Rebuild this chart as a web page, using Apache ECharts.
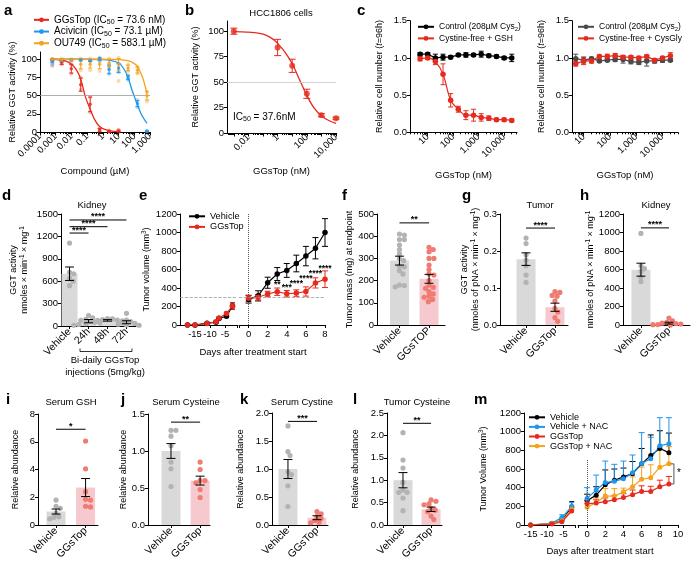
<!DOCTYPE html>
<html>
<head>
<meta charset="utf-8">
<title>GGsTop figure</title>
<script src="https://cdn.jsdelivr.net/npm/echarts@6/dist/echarts.min.js"></script>
<style>
  html, body { margin: 0; padding: 0; background: #fff; }
  #chart { width: 700px; height: 564px; }
</style>
</head>
<body>
<div id="chart"></div>
<script>
// ---------- values ----------
// a  (compound in µM, activity in %)
const aDose = [0.00061, 0.0024, 0.0098, 0.039, 0.156, 0.625, 2.5, 10, 40, 160, 640];
const aGgMean = [99, 96, 87, 65, 38, 3, 1, 1.5];
const aGgErr = [1, 3, 6, 9, 10, 2, 1, 1];
const aGgRep1 = [100, 99, 93, 75, 48, 5, 2, 3];
const aGgRep2 = [91, 93, 80, 58, 27, 0, 0, 0];
const aAcMean = [97, 98, 99, 99, 98, 100, 86, 88, 75, 39, 1];
const aAcErr = [2, 1, 1, 1, 1, 2, 6, 6, 3, 4, 0.5];
const aAcRep1 = [93, 98, 99, 99, 98, 102, 92, 94, 78, 44, 1];
const aAcRep2 = [100, 98, 99, 99, 98, 97, 80, 82, 72, 34, 1];
const aOuMean = [100, 99, 99, 93, 93, 93, 95, 93, 88, 85, 50];
const aOuErr = [1, 2, 1, 6, 5, 6, 5, 8, 4, 4, 6];
const aOuRep1 = [100, 101, 100, 101, 101, 101, 101, 102, 93, 90, 55];
const aOuRep2 = [99, 97, 98, 85, 85, 84, 88, 70, 84, 80, 42];
const aGgFitX = [0.0006, 0.002, 0.005, 0.01, 0.02, 0.04, 0.0736, 0.15, 0.3, 0.6, 1.2, 3, 10];
const aGgFitY = [100, 99, 97, 93, 86, 72, 50, 32, 17, 8, 4, 1.5, 0.5];
const aAcFitX = [0.0006, 0.1, 1, 3, 10, 20, 40, 73, 100, 160, 300, 640];
const aAcFitY = [100, 100, 99.5, 98.5, 95, 88, 75, 57, 49, 37, 23, 12];
const aOuFitX = [0.0006, 1, 10, 40, 100, 160, 300, 450, 640];
const aOuFitY = [100, 100, 99.5, 98, 94, 90, 78, 66, 53];
const aTickVals = [0.0001, 0.001, 0.01, 0.1, 1, 10, 100, 1000];
const aTickLbls = ['0.0001', '0.001', '0.01', '0.1', '1', '10', '100', '1,000'];

// b  (GGsTop in nM)
const bDose = [0.001, 1, 10, 100, 1000, 10000];
const bMean = [100, 84, 66, 38.5, 17.5, 14.5];
const bErr = [3, 8, 6.5, 4.5, 1.5, 1];
const bFitX = [0.001, 0.01, 0.1, 0.5, 1, 3, 10, 37.6, 100, 300, 1000, 3000, 10000];
const bFitY = [99.6, 99, 97, 92, 88, 80, 68, 50, 37, 25, 17, 12.5, 9.5];
const bTickVals = [0.001, 0.01, 0.1, 1, 10, 100, 1000, 10000];
const bLblVals = [0.01, 1, 100, 10000];
const bLbls = ['0.01', '1', '100', '10,000'];

// c  (relative cell number)
const cDose = [5, 10, 20, 40, 80, 160, 320, 640, 1280, 2560, 5120, 10240, 20480];
const cCtrl = [1.05, 1.05, 1.0, 1.01, 1.01, 1.04, 1.04, 1.04, 1.05, 1.03, 1.02, 1.0, 1.0];
const cCtrlErr = [0.02, 0.02, 0.05, 0.04, 0.02, 0.02, 0.03, 0.02, 0.04, 0.02, 0.02, 0.02, 0.05];
const cGsh = [0.99, 1.0, 0.95, 0.78, 0.43, 0.31, 0.23, 0.23, 0.2, 0.19, 0.17, 0.17, 0.16];
const cGshErr = [0.03, 0.02, 0.04, 0.14, 0.09, 0.04, 0.06, 0.08, 0.05, 0.03, 0.02, 0.02, 0.02];
const cCtrl2 = [0.99, 0.97, 0.99, 0.96, 0.97, 0.98, 0.98, 0.95, 0.94, 0.96, 0.96, 0.97, 0.97];
const cCtrl2Err = [0.06, 0.04, 0.02, 0.02, 0.02, 0.03, 0.05, 0.03, 0.03, 0.07, 0.03, 0.03, 0.02];
const cCysGly = [0.92, 0.96, 0.96, 1.02, 1.02, 1.03, 1.01, 1.01, 1.0, 1.02, 0.97, 1.0, 1.03];
const cCysGlyErr = [0.03, 0.05, 0.03, 0.02, 0.03, 0.03, 0.02, 0.02, 0.02, 0.02, 0.02, 0.02, 0.04];
const cTickVals = [10, 100, 1000, 10000];
const cLbls = ['10', '100', '1,000', '10,000'];

// d  kidney GGT activity
const dCats = ['Vehicle', '24h', '48h', '72h'];
const dMean = [700, 65, 75, 50];
const dErr = [90, 22, 10, 20];
const dDots = [
  [1110, 720, 700, 640, 600, 540],
  [140, 110, 90, 75, 60, 50, 40, 30, 20, 10],
  [100, 95, 85, 80, 75, 70, 65, 60],
  [170, 80, 60, 45, 35, 25, 15, 10]
];
const dSig = [[0, 1, 1245], [0, 2, 1330], [0, 3, 1420]];
const dSigLbl = ['****', '****', '****'];

// e  tumor volume
const eDaysL = [-17.5, -15, -11, -8, -7, -4.5, -2.5];
const eVehL = [0, 0, 20, 30, 70, 95, 205];
const eGgL = [0, 0, 15, 35, 75, 125, 205];
const eErrL = [0, 0, 5, 8, 10, 15, 35];
const eDaysR = [0, 1, 2, 3, 4, 5, 6, 7, 8];
const eVehR = [277, 315, 457, 551, 590, 665, 745, 830, 1000];
const eVehErr = [40, 55, 60, 70, 75, 90, 105, 115, 150];
const eGgR = [288, 300, 335, 360, 338, 345, 362, 455, 495];
const eGgErr = [35, 30, 30, 40, 35, 35, 50, 55, 90];
const eStarDays = [3, 4, 5, 6, 7, 8];
const eStarY = [440, 405, 450, 505, 560, 610];
const eStarLbl = ['**', '***', '****', '****', '****', '****'];

// f - l  bar + dot panels
const fCats = ['Vehicle', 'GGsTOP'];
const fMean = [290, 208];
const fErr = [20, 20];
const fDots = [
  [410, 405, 385, 385, 360, 340, 320, 300, 290, 265, 262, 245, 230, 180, 178, 172],
  [350, 340, 330, 300, 300, 270, 250, 230, 225, 200, 180, 170, 165, 150, 140, 130, 125, 115, 105]
];
const fSig = [[0, 1, 460]];

const gCats = ['Vehicle', 'GGsTop'];
const gMean = [0.178, 0.048];
const gErr = [0.017, 0.011];
const gDots = [
  [0.235, 0.22, 0.19, 0.175, 0.16, 0.135, 0.115],
  [0.09, 0.088, 0.08, 0.078, 0.065, 0.045, 0.035, 0.02, 0.01]
];
const gSig = [[0, 1, 0.262]];

const hMean = [598, 20];
const hErr = [70, 10];
const hDots = [
  [990, 640, 610, 580, 520, 470],
  [75, 45, 30, 20, 15, 10, 5, 3, 0]
];
const hSig = [[0, 1, 1050]];

const iMean = [0.97, 2.7];
const iErr = [0.18, 0.65];
const iDots = [[1.8, 1.35, 1.2, 0.85, 0.6, 0.55, 0.45], [6.05, 4.05, 2.4, 1.85, 1.8, 1.35, 1.3]];
const iSig = [[0, 1, 6.9]];

const jMean = [1.0, 0.6];
const jErr = [0.1, 0.06];
const jDots = [[1.28, 1.28, 1.2, 1.07, 0.85, 0.76, 0.52], [0.85, 0.75, 0.6, 0.6, 0.57, 0.48, 0.37]];
const jSig = [[0, 1, 1.39]];

const kMean = [1.0, 0.13];
const kErr = [0.17, 0.035];
const kDots = [[1.77, 1.31, 1.24, 0.95, 0.9, 0.7, 0.33], [0.24, 0.2, 0.15, 0.12, 0.08, 0.05, 0.04]];
const kSig = [[0, 1, 1.85]];

const lMean = [1.0, 0.35];
const lErr = [0.17, 0.05];
const lDots = [[2.06, 1.45, 1.27, 0.95, 0.78, 0.73, 0.73, 0.6, 0.32], [0.56, 0.53, 0.47, 0.45, 0.37, 0.33, 0.3, 0.2, 0.12]];
const lSig = [[0, 1, 2.27]];

// m  tumor volume with NAC
const mDaysL = [-15, -8.5, -5.5, -2.5];
const mVehL = [0, 15, 50, 190];
const mVehNL = [0, 20, 80, 200];
const mGgL = [0, 10, 35, 150];
const mGgNL = [0, 15, 45, 170];
const mVehLE = [0, 10, 20, 60];
const mVehNLE = [0, 15, 30, 40];
const mGgLE = [0, 5, 10, 30];
const mGgNLE = [0, 8, 15, 35];
const mDaysR = [0, 1, 2, 3, 4, 5, 6, 7, 8, 9];
const mVehR = [260, 320, 430, 480, 515, 550, 655, 745, 820, 775];
const mVehRE = [70, 90, 160, 120, 95, 130, 165, 220, 190, 210];
const mVehNR = [285, 375, 455, 470, 495, 560, 660, 710, 850, 870];
const mVehNRE = [115, 160, 230, 180, 190, 190, 330, 230, 300, 280];
const mGgR = [230, 235, 250, 270, 295, 325, 360, 360, 410, 440];
const mGgRE = [35, 35, 40, 45, 40, 50, 60, 55, 70, 80];
const mGgNR = [190, 240, 310, 310, 355, 410, 490, 505, 620, 655];
const mGgNRE = [40, 50, 80, 80, 40, 105, 130, 140, 220, 185];

// ---------- style ----------
const FONT = 'Liberation Sans, Arial, Helvetica, sans-serif';
const RED = '#e62a1e', BLUE = '#1f97ee', ORANGE = '#f5a21c', DGRAY = '#4a4a4a';
const RED_L = 'rgba(230,42,30,0.42)', BLUE_L = 'rgba(31,151,238,0.42)', ORANGE_L = 'rgba(245,162,28,0.5)';
const GRAYBAR = '#d9d9d9', PINKBAR = '#f5c9cd', GRAYDOT = '#b3b3b3', REDDOT = '#ef7b71';

function rich(fs, lh) {
  const base = { fontFamily: FONT, color: '#000' };
  return {
    t: Object.assign({ fontSize: fs, lineHeight: lh }, base),
    i: Object.assign({ fontSize: fs, lineHeight: lh, fontStyle: 'italic' }, base),
    s: Object.assign({ fontSize: fs * 0.7, lineHeight: lh, verticalAlign: 'bottom' }, base),
    u: Object.assign({ fontSize: fs * 0.7, lineHeight: lh, verticalAlign: 'top' }, base)
  };
}
const zip = (xs, ys) => xs.map((x, i) => [x, ys[i]]);
function minorTicks(lo, hi) {
  const out = [];
  for (let e = lo; e <= hi; e++) for (let m = 2; m <= 9; m++) out.push(m * Math.pow(10, e));
  return out;
}

const grids = [], xAxes = [], yAxes = [], series = [], legends = [], gfx = [];
function grid(l, t, w, h) { grids.push({ left: l, top: t, width: w, height: h }); return grids.length - 1; }
function addX(a) { xAxes.push(a); return xAxes.length - 1; }
function addY(a) { yAxes.push(a); return yAxes.length - 1; }

const AXL = { show: true, onZero: false, lineStyle: { color: '#000', width: 1 } };
const TKS = { color: '#000', width: 1 };

function yAx(g, max, ticks, name, gap, dec) {
  return {
    type: 'value', gridIndex: g, min: 0, max: max,
    axisLine: AXL,
    axisTick: { show: true, length: 3, customValues: ticks, lineStyle: TKS },
    axisLabel: { customValues: ticks, margin: 3, fontSize: 9.5, fontFamily: FONT, color: '#000',
      formatter: v => dec ? (+v).toFixed(dec) : String(v) },
    splitLine: { show: false },
    name: name, nameLocation: 'middle', nameRotate: 90, nameGap: gap,
    nameTextStyle: { fontSize: 9, fontFamily: FONT, color: '#000', rich: rich(9, 11) }
  };
}
function hiddenY(g, max) { return { type: 'value', gridIndex: g, min: 0, max: max, show: false }; }

function logAx(g, min, max, ticks, lblVals, lbls, name, gap) {
  return {
    type: 'log', logBase: 10, gridIndex: g, min: min, max: max, position: 'bottom',
    axisLine: AXL,
    axisTick: { show: true, length: 3.5, customValues: ticks, lineStyle: TKS },
    axisLabel: { customValues: lblVals, rotate: 45, margin: 3, fontSize: 9.5, fontFamily: FONT, color: '#000',
      formatter: v => {
        const k = lblVals.findIndex(t => Math.abs(Math.log10(t) - Math.log10(v)) < 0.01);
        return k < 0 ? '' : lbls[k];
      } },
    splitLine: { show: false }, minorTick: { show: false },
    name: name, nameLocation: 'middle', nameGap: gap,
    nameTextStyle: { fontSize: 9.5, fontFamily: FONT, color: '#000' }
  };
}
function minorAx(g, min, max, vals) {
  return {
    type: 'log', logBase: 10, gridIndex: g, min: min, max: max, position: 'bottom',
    axisLine: { show: false }, axisLabel: { show: false }, splitLine: { show: false },
    axisTick: { show: true, length: 2, customValues: vals, lineStyle: TKS }
  };
}
function numAx(g, min, max, ticks, lblVals) {
  return {
    type: 'value', gridIndex: g, min: min, max: max,
    axisLine: AXL,
    axisTick: { show: true, length: 3, customValues: ticks, lineStyle: TKS },
    axisLabel: { customValues: lblVals, margin: 4, fontSize: 9.5, fontFamily: FONT, color: '#000',
      formatter: v => String(v) },
    splitLine: { show: false }
  };
}
function catAx(g, min, max, cats) {
  const vals = cats.map((c, i) => i);
  return {
    type: 'value', gridIndex: g, min: min, max: max,
    axisLine: AXL,
    axisTick: { show: true, length: 3, customValues: vals, lineStyle: TKS },
    axisLabel: { customValues: vals, rotate: 45, margin: 4, fontSize: 10.5, fontFamily: FONT, color: '#000',
      formatter: v => cats[Math.round(v)] },
    splitLine: { show: false }
  };
}

// ---------- series helpers ----------
function lineS(name, xi, yi, xs, ys, color, opt) {
  return Object.assign({
    type: 'line', name: name, xAxisIndex: xi, yAxisIndex: yi, data: zip(xs, ys),
    symbol: 'circle', symbolSize: 5, showSymbol: true, silent: true, z: 4,
    lineStyle: { color: color, width: 1.2 }, itemStyle: { color: color }
  }, opt || {});
}
function scatterS(xi, yi, xs, ys, color, size, z) {
  return { type: 'scatter', xAxisIndex: xi, yAxisIndex: yi, data: zip(xs, ys), symbolSize: size,
    itemStyle: { color: color }, silent: true, z: z };
}
function errS(xi, yi, xs, ys, es, color, cap, upOnly, z) {
  return {
    type: 'custom', xAxisIndex: xi, yAxisIndex: yi, z: z || 3, silent: true,
    data: xs.map((x, i) => [x, ys[i], es[i]]), encode: { x: 0, y: 1 },
    renderItem(p, api) {
      const x = api.value(0), y = api.value(1), e = api.value(2);
      if (!e) return { type: 'group', children: [] };
      const t = api.coord([x, y + e]), b = api.coord([x, upOnly ? y : y - e]);
      const st = { stroke: color, lineWidth: 1, fill: null };
      const ch = [
        { type: 'line', shape: { x1: t[0], y1: t[1], x2: b[0], y2: b[1] }, style: st },
        { type: 'line', shape: { x1: t[0] - cap / 2, y1: t[1], x2: t[0] + cap / 2, y2: t[1] }, style: st }
      ];
      if (!upOnly) ch.push({ type: 'line', shape: { x1: b[0] - cap / 2, y1: b[1], x2: b[0] + cap / 2, y2: b[1] }, style: st });
      return { type: 'group', children: ch };
    }
  };
}
function txtStyle(text, o) {
  return Object.assign({ text: text, fontFamily: FONT, fontSize: 9.5, fill: '#000',
    align: 'center', verticalAlign: 'middle', textAlign: 'center', textVerticalAlign: 'middle' }, o || {});
}
function sigS(xi, yi, items, labels) {
  return {
    type: 'custom', xAxisIndex: xi, yAxisIndex: yi, z: 6, silent: true,
    data: items, encode: { x: [0, 1], y: 2 },
    renderItem(p, api) {
      const a = api.coord([api.value(0), api.value(2)]), b = api.coord([api.value(1), api.value(2)]);
      return { type: 'group', children: [
        { type: 'line', shape: { x1: a[0], y1: a[1], x2: b[0], y2: b[1] }, style: { stroke: '#000', lineWidth: 1 } },
        { type: 'text', x: (a[0] + b[0]) / 2, y: a[1] + 1.5,
          style: txtStyle(labels[p.dataIndex], { fontSize: 9, fontWeight: 'bold', verticalAlign: 'bottom', textVerticalAlign: 'bottom' }) }
      ] };
    }
  };
}
// simple beeswarm: keep dots from overlapping by nudging sideways
function swarm(pts, r) {
  const d2 = (2 * r) * (2 * r) * 0.72, placed = [], out = [];
  const order = pts.map((p, i) => i).sort((a, b) => pts[a][1] - pts[b][1]);
  order.forEach(i => {
    const x0 = pts[i][0], y = pts[i][1];
    let dx = 0;
    for (let k = 0; k < 80; k++) {
      const c = (k % 2 ? 1 : -1) * Math.ceil(k / 2) * 0.7;
      if (placed.every(q => (q[0] - x0 - c) * (q[0] - x0 - c) + (q[1] - y) * (q[1] - y) >= d2)) { dx = c; break; }
    }
    out[i] = [x0 + dx, y];
    placed.push(out[i]);
  });
  return out;
}
function dotS(xi, yi, cat, vals, color, r) {
  let pos = null;
  return {
    type: 'custom', xAxisIndex: xi, yAxisIndex: yi, z: 3, silent: true,
    data: vals.map(v => [cat, v]), encode: { x: 0, y: 1 },
    renderItem(p, api) {
      if (p.dataIndex === 0 || !pos) pos = swarm(vals.map(v => api.coord([cat, v])), r);
      const q = pos[p.dataIndex];
      return { type: 'circle', shape: { cx: q[0], cy: q[1], r: r }, style: { fill: color } };
    }
  };
}
function barPanel(xi, yi, means, errs, dots, barCols, dotCols, w, sig, sigLbl) {
  series.push({
    type: 'bar', xAxisIndex: xi, yAxisIndex: yi, barWidth: w, z: 2, silent: true,
    data: means.map((m, i) => ({ value: [i, m], itemStyle: { color: barCols[i] } }))
  });
  dots.forEach((d, i) => series.push(dotS(xi, yi, i, d, dotCols[i], 2.6)));
  series.push(errS(xi, yi, means.map((m, i) => i), means, errs, '#000', 9, false, 5));
  series.push(sigS(xi, yi, sig, sigLbl));
}
function legend(names, left, top, fs, lh, iw) {
  legends.push({
    data: names, left: left, top: top, orient: 'vertical', itemWidth: iw || 16, itemHeight: 6,
    itemGap: 0, padding: 0, selectedMode: false,
    formatter: n => LEG[n],
    textStyle: { fontSize: fs, fontFamily: FONT, color: '#000', lineHeight: lh, rich: rich(fs, lh) }
  });
}
const LEG = {
  aGG: '{t|GGsTop (IC}{s|50}{t| = 73.6 nM)}',
  aAC: '{t|Acivicin (IC}{s|50}{t| = 73.1 µM)}',
  aOU: '{t|OU749 (IC}{s|50}{t| = 583.1 µM)}',
  cCtrl: '{t|Control (208µM Cys}{s|2}{t|)}',
  cGsh: '{t|Cystine-free + GSH}',
  cCtrl2: '{t|Control (208µM Cys}{s|2}{t|)}',
  cCys: '{t|Cystine-free + CysGly}',
  eVeh: '{t|Vehicle}', eGg: '{t|GGsTop}',
  mVeh: '{t|Vehicle}', mVehN: '{t|Vehicle + NAC}', mGg: '{t|GGsTop}', mGgN: '{t|GGsTop + NAC}'
};

// ---------- panel a ----------
let g = grid(40, 52, 110, 80);
let xi = addX(logAx(g, 0.0001, 1000, aTickVals, aTickVals, aTickLbls, 'Compound (µM)', 34));
addX(minorAx(g, 0.0001, 1000, minorTicks(-4, 2)));
let yi = addY(yAx(g, 110, [0, 25, 50, 75, 100], 'Relative GGT activity (%)', 23));
[
  ['aGG', aGgFitX, aGgFitY, aGgMean, aGgErr, aGgRep1, aGgRep2, RED, RED_L],
  ['aAC', aAcFitX, aAcFitY, aAcMean, aAcErr, aAcRep1, aAcRep2, BLUE, BLUE_L],
  ['aOU', aOuFitX, aOuFitY, aOuMean, aOuErr, aOuRep1, aOuRep2, ORANGE, ORANGE_L]
].forEach((c, k) => {
  const dose = aDose.slice(0, c[3].length);
  series.push(lineS(c[0], xi, yi, c[1], c[2], c[7], {
    smooth: 0.35, showSymbol: false, symbolSize: 4, z: 4, lineStyle: { color: c[7], width: 1.3 },
    markLine: k === 0 ? { silent: true, symbol: 'none', label: { show: false },
      lineStyle: { color: '#9a9a9a', type: 'solid', width: 0.8 }, data: [{ yAxis: 50 }] } : undefined
  }));
  series.push(scatterS(xi, yi, dose.concat(dose), c[5].concat(c[6]), c[8], 4, 2));
  series.push(errS(xi, yi, dose, c[3], c[4], c[7], 4, false, 3));
  series.push(scatterS(xi, yi, dose, c[3], c[7], 3.5, 5));
});
legend(['aGG', 'aAC', 'aOU'], 33, 14, 10, 11.7, 15);

// ---------- panel b ----------
g = grid(227, 21, 109, 112);
xi = addX(logAx(g, 0.00034, 10000, bTickVals, bLblVals, bLbls, 'GGsTop (nM)', 33));
addX(minorAx(g, 0.00034, 10000, minorTicks(-4, 3)));
yi = addY(yAx(g, 110, [0, 25, 50, 75, 100], 'Relative GGT activity (%)', 27));
series.push(lineS('bFit', xi, yi, bFitX, bFitY, RED, {
  smooth: 0.35, showSymbol: false, z: 3, lineStyle: { color: RED, width: 1.3 },
  markLine: { silent: true, symbol: 'none', label: { show: false },
    lineStyle: { color: '#c8c8c8', type: 'solid', width: 0.8 }, data: [{ yAxis: 50 }] }
}));
series.push(errS(xi, yi, bDose, bMean, bErr, RED, 7, false, 4));
series.push(scatterS(xi, yi, bDose, bMean, RED, 6, 5));

// ---------- panel c ----------
function cPanel(left, min, max, s1, e1, col1, n1, s2, e2, col2, n2, smooth2, ygap) {
  const gg = grid(left, 20.7, left === 410 ? 107 : 106, 111.6);
  const x = addX(logAx(gg, min, max, cTickVals, cTickVals, cLbls, 'GGsTop (nM)', 38));
  addX(minorAx(gg, min, max, minorTicks(0, 4)));
  const y = addY(yAx(gg, 1.5, [0, 0.5, 1, 1.5], '{t|Relative cell number (}{i|t}{t|=96h)}', ygap, 1));
  series.push(errS(x, y, cDose, s1, e1, col1, 5, false, 3));
  series.push(lineS(n1, x, y, cDose, s1, col1, { symbolSize: 5.5 }));
  series.push(errS(x, y, cDose, s2, e2, col2, 5, false, 3));
  series.push(lineS(n2, x, y, cDose, s2, col2, { symbolSize: 5.5, smooth: smooth2 }));
}
cPanel(410, 2, 33000, cCtrl, cCtrlErr, '#000', 'cCtrl', cGsh, cGshErr, RED, 'cGsh', 0.35, 25);
cPanel(572, 3.6, 40000, cCtrl2, cCtrl2Err, DGRAY, 'cCtrl2', cCysGly, cCysGlyErr, RED, 'cCys', false, 25);
legend(['cCtrl', 'cGsh'], 417, 21, 8.5, 11.6, 16);
legend(['cCtrl2', 'cCys'], 577, 21, 8.5, 11.6, 16);

// ---------- panel d ----------
g = grid(61, 214, 75, 112);
xi = addX(catAx(g, -0.45, 3.5, dCats));
yi = addY(yAx(g, 1500, [0, 300, 600, 900, 1200, 1500],
  '{t|GGT activity}\n{t|nmoles × min}{u|-1}{t| × mg}{u|-1}', 31));
barPanel(xi, yi, dMean, dErr, dDots, [GRAYBAR, GRAYBAR, GRAYBAR, GRAYBAR],
  [GRAYDOT, GRAYDOT, GRAYDOT, GRAYDOT], 16, dSig, dSigLbl);

// ---------- panel e ----------
const eGL = grid(180, 214, 57, 111);
const eXL = addX(numAx(eGL, -20, -1, [-15, -10, -5, -1], [-15, -10, -5]));
const eYL = addY(yAx(eGL, 1200, [0, 200, 400, 600, 800, 1000, 1200], '{t|Tumor volume (mm}{u|3}{t|)}', 28));
const eGR = grid(239, 214, 86, 111);
const eXR = addX(numAx(eGR, -1, 8, [-1, 0, 2, 4, 6, 8], [0, 2, 4, 6, 8]));
const eYR = addY(hiddenY(eGR, 1200));
const dash300 = { silent: true, symbol: 'none', label: { show: false },
  lineStyle: { color: '#9a9a9a', type: 'dashed', width: 0.8 }, data: [{ yAxis: 300 }] };
series.push(errS(eXL, eYL, eDaysL, eVehL, eErrL, '#000', 5, false, 3));
series.push(errS(eXL, eYL, eDaysL, eGgL, eErrL, RED, 5, false, 3));
series.push(lineS('eVehL', eXL, eYL, eDaysL, eVehL, '#000', { symbolSize: 5.5, markLine: dash300 }));
series.push(lineS('eGgL', eXL, eYL, eDaysL, eGgL, RED, { symbolSize: 5.5 }));
series.push(errS(eXR, eYR, eDaysR, eVehR, eVehErr, '#000', 6, false, 3));
series.push(errS(eXR, eYR, eDaysR, eGgR, eGgErr, RED, 6, false, 3));
series.push(lineS('eVeh', eXR, eYR, eDaysR, eVehR, '#000', { symbolSize: 5.5, markLine: {
  silent: true, symbol: 'none', label: { show: false }, data: [
    { yAxis: 300, lineStyle: { color: '#9a9a9a', type: 'dashed', width: 0.8 } },
    { xAxis: 0, lineStyle: { color: '#555', type: 'dotted', width: 1 } }
  ] } }));
series.push(lineS('eGg', eXR, eYR, eDaysR, eGgR, RED, { symbolSize: 5.5 }));
series.push({
  type: 'custom', xAxisIndex: eXR, yAxisIndex: eYR, z: 6, silent: true,
  data: zip(eStarDays, eStarY), encode: { x: 0, y: 1 },
  renderItem(p, api) {
    const c = api.coord([api.value(0), api.value(1)]);
    return { type: 'text', x: c[0], y: c[1], style: txtStyle(eStarLbl[p.dataIndex], { fontSize: 8.5, fontWeight: 'bold' }) };
  }
});
legend(['eVeh', 'eGg'], 188, 211, 9.2, 10.6, 16);

// ---------- panels f - l ----------
const GR2 = [GRAYBAR, PINKBAR], DT2 = [GRAYDOT, REDDOT];
g = grid(377, 214, 68, 111);
xi = addX(catAx(g, -0.76, 1.54, fCats));
yi = addY(yAx(g, 500, [0, 100, 200, 300, 400, 500], 'Tumor mass (mg) at endpoint', 22));
barPanel(xi, yi, fMean, fErr, fDots, GR2, DT2, 19, fSig, ['**']);

g = grid(500, 214, 68, 111);
xi = addX(catAx(g, -0.9, 1.45, gCats));
yi = addY(yAx(g, 0.3, [0, 0.1, 0.2, 0.3],
  '{t|GGT activity}\n{t|(nmoles of pNA × min}{u|-1}{t| × mg}{u|-1}{t|)}', 18, 1));
barPanel(xi, yi, gMean, gErr, gDots, GR2, DT2, 19, gSig, ['****']);

g = grid(623, 214, 67, 111);
xi = addX(catAx(g, -0.64, 1.75, gCats));
yi = addY(yAx(g, 1200, [0, 200, 400, 600, 800, 1000, 1200],
  '{t|nmoles of pNA × min}{u|-1}{t| × mg}{u|-1}', 25));
barPanel(xi, yi, hMean, hErr, hDots, GR2, DT2, 19, hSig, ['****']);

g = grid(38, 414, 60, 111);
xi = addX(catAx(g, -0.61, 1.42, gCats));
yi = addY(yAx(g, 8, [0, 2, 4, 6, 8], 'Relative abundance', 18));
barPanel(xi, yi, iMean, iErr, iDots, GR2, DT2, 19, iSig, ['*']);

g = grid(148, 414, 62, 111);
xi = addX(catAx(g, -0.79, 1.34, gCats));
yi = addY(yAx(g, 1.5, [0, 0.5, 1, 1.5], 'Relative abundance', 18, 1));
barPanel(xi, yi, jMean, jErr, jDots, GR2, DT2, 19, jSig, ['**']);

g = grid(272, 413, 56, 112);
xi = addX(catAx(g, -0.55, 1.38, gCats));
yi = addY(yAx(g, 2, [0, 0.5, 1, 1.5, 2], 'Relative abundance', 27, 1));
barPanel(xi, yi, kMean, kErr, kDots, GR2, DT2, 19, kSig, ['***']);

g = grid(387, 413, 55, 112);
xi = addX(catAx(g, -0.57, 1.39, gCats));
yi = addY(yAx(g, 2.5, [0, 0.5, 1, 1.5, 2, 2.5], 'Relative abundance', 27, 1));
barPanel(xi, yi, lMean, lErr, lDots, GR2, DT2, 19, lSig, ['**']);

// ---------- panel m ----------
const mGL = grid(524, 413, 51, 112);
const mXL = addX(numAx(mGL, -17, -1.5, [-15, -10, -5, -1.5], [-15, -10, -5]));
const mYL = addY(yAx(mGL, 1200, [0, 200, 400, 600, 800, 1000, 1200], '{t|Tumor Volume (mm}{u|3}{t|)}', 35));
const mGR = grid(578, 413, 100, 112);
const mXR = addX(numAx(mGR, -1, 10, [-1, 0, 2, 4, 6, 8, 10], [0, 2, 4, 6, 8, 10]));
const mYR = addY(hiddenY(mGR, 1200));
[
  ['mVeh', mVehL, mVehLE, mVehR, mVehRE, '#000'],
  ['mVehN', mVehNL, mVehNLE, mVehNR, mVehNRE, BLUE],
  ['mGgN', mGgNL, mGgNLE, mGgNR, mGgNRE, ORANGE],
  ['mGg', mGgL, mGgLE, mGgR, mGgRE, RED]
].forEach((c, k) => {
  series.push(errS(mXL, mYL, mDaysL, c[1], c[2], c[5], 5, true, 3));
  series.push(lineS(c[0] + 'L', mXL, mYL, mDaysL, c[1], c[5], { symbolSize: 5 }));
  series.push(errS(mXR, mYR, mDaysR, c[3], c[4], c[5], 6, true, 3));
  series.push(lineS(c[0], mXR, mYR, mDaysR, c[3], c[5], { symbolSize: 5,
    markLine: k === 0 ? { silent: true, symbol: 'none', label: { show: false },
      lineStyle: { color: '#555', type: 'dotted', width: 1 },
      data: [[{ coord: [0, 0] }, { coord: [0, 700] }]] } : undefined }));
});
series.push({
  type: 'custom', xAxisIndex: mXR, yAxisIndex: mYR, z: 6, silent: true,
  data: [[mDaysR[mDaysR.length - 1], mGgR[mGgR.length - 1], mGgNR[mGgNR.length - 1]]],
  encode: { x: 0, y: [1, 2] },
  renderItem(p, api) {
    const a = api.coord([api.value(0), api.value(1)]), b = api.coord([api.value(0), api.value(2)]);
    const x = a[0] + 5;
    return { type: 'group', children: [
      { type: 'polyline', shape: { points: [[x - 3, a[1]], [x, a[1]], [x, b[1]], [x - 3, b[1]]] },
        style: { stroke: '#555', fill: null, lineWidth: 1 } },
      { type: 'text', x: x + 5, y: (a[1] + b[1]) / 2 - 1, style: txtStyle('*', { fontSize: 10 }) }
    ] };
  }
});
legend(['mVeh', 'mVehN', 'mGg', 'mGgN'], 528, 412.5, 9, 9.6, 16);

// ---------- letters, titles, free text ----------
function T(text, x, y, o) { return { type: 'text', x: x, y: y, silent: true, style: txtStyle(text, o) }; }
const LET = { fontSize: 15, fontWeight: 'bold', align: 'left', textAlign: 'left', verticalAlign: 'top', textVerticalAlign: 'top' };
[['a', 4, 3], ['b', 185, 3], ['c', 357, 3], ['d', 2, 188], ['e', 139, 188], ['f', 342, 188],
 ['g', 462, 188], ['h', 580, 188], ['i', 6, 392], ['j', 121, 392], ['k', 240, 392], ['l', 353, 392], ['m', 474, 392]]
  .forEach(l => gfx.push(T(l[0], l[1], l[2], LET)));
[['HCC1806 cells', 281, 13], ['Kidney', 92, 205], ['Tumor', 540, 205], ['Kidney', 656, 205],
 ['Serum GSH', 71, 402], ['Serum Cysteine', 186, 402], ['Serum Cystine', 302, 402], ['Tumor Cysteine', 417, 402]]
  .forEach(t => gfx.push(T(t[0], t[1], t[2], { fontSize: 9.5 })));
gfx.push(T('{t|IC}{s|50}{t| = 37.6nM}', 233, 117, { align: 'left', textAlign: 'left', rich: rich(10, 12) }));
gfx.push(T('Days after treatment start', 253, 352, { fontSize: 9.5 }));
gfx.push(T('Days after treatment start', 600, 551, { fontSize: 9.5 }));
gfx.push(T('Bi-daily GGsTop', 105, 360, { fontSize: 9.5 }));
gfx.push(T('injections (5mg/kg)', 105, 372, { fontSize: 9.5 }));
gfx.push({ type: 'polyline', silent: true, shape: { points: [[80, 348.5], [80, 351.5], [132, 351.5], [132, 348.5]] },
  style: { stroke: '#000', fill: null, lineWidth: 0.8 } });

const chart = echarts.init(document.getElementById('chart'), null, { renderer: 'canvas' });
chart.setOption({
  animation: false,
  backgroundColor: '#fff',
  textStyle: { fontFamily: FONT },
  grid: grids,
  xAxis: xAxes,
  yAxis: yAxes,
  legend: legends,
  series: series,
  graphic: { elements: gfx }
});
</script>
</body>
</html>
